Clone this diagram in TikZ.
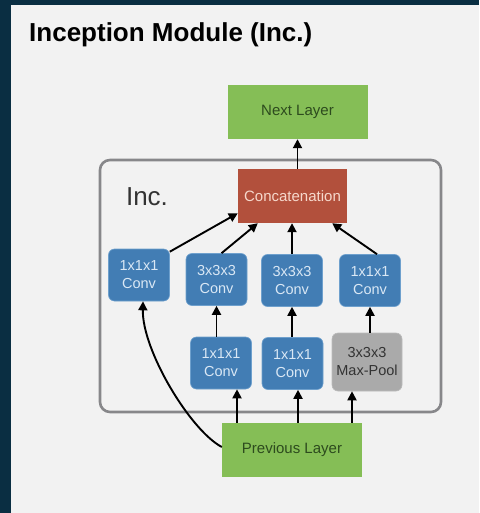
\documentclass[tikz,border=0pt]{standalone}
\usepackage{fontspec}
\setmainfont{Liberation Sans}
\usetikzlibrary{arrows.meta}
\definecolor{navy}{RGB}{10,46,66}
\definecolor{paper}{RGB}{242,242,242}
\definecolor{lgreen}{RGB}{133,190,86}
\definecolor{dgreen}{RGB}{45,75,30}
\definecolor{brick}{RGB}{178,80,60}
\definecolor{brtext}{RGB}{246,216,204}
\definecolor{cblue}{RGB}{66,125,180}
\definecolor{cbluel}{RGB}{110,160,205}
\definecolor{bltext}{RGB}{218,232,245}
\definecolor{pgray}{RGB}{170,170,170}
\definecolor{frame}{RGB}{135,135,138}
\tikzset{
  layerbox/.style={fill=lgreen, text=dgreen, minimum width=140pt, minimum height=54pt, inner sep=0pt, font=\fontsize{15}{17}\selectfont},
  convbox/.style={fill=cblue, draw=cbluel, line width=0.6pt, rounded corners=6pt, text=bltext, minimum width=61pt, minimum height=52pt, inner sep=0pt, align=center, font=\fontsize{14.5}{18}\selectfont},
  poolbox/.style={fill=pgray, draw=pgray!80!white, line width=0.6pt, rounded corners=6pt, text=black!80, minimum width=70pt, minimum height=58pt, inner sep=0pt, align=center, font=\fontsize{14.5}{18}\selectfont},
  catbox/.style={fill=brick, text=brtext, minimum width=109pt, minimum height=54pt, inner sep=0pt, font=\fontsize{15}{17}\selectfont},
  arr/.style={line width=1.9pt, -{Triangle[length=9pt,width=9pt]}},
}
\begin{document}
\begin{tikzpicture}[x=1pt,y=-1pt]
\fill[navy] (0,0) rectangle (479,513);
\fill[paper] (11,5) rectangle (479,513);
\useasboundingbox (0,0) rectangle (479,513);
\node[anchor=base west, inner sep=0pt, font=\bfseries\fontsize{26}{30}\selectfont, text=black] (title) at (29,42) {Inception Module (Inc.)};
\draw[frame, line width=2.6pt, rounded corners=10pt] (100,160) rectangle (441,412);
\node[font=\fontsize{26}{30}\selectfont, text=black!80] (inc) at (147,197) {Inc.};
\node[layerbox] (next) at (297.5,112) {Next Layer};
\node[catbox] (cat) at (292.5,196) {Concatenation};
\node[convbox] (b1) at (139,275) {1x1x1\\Conv};
\node[convbox] (b2) at (216.5,279.5) {3x3x3\\Conv};
\node[convbox] (b3) at (292,280.5) {3x3x3\\Conv};
\node[convbox] (b4) at (370,280.5) {1x1x1\\Conv};
\node[convbox] (c1) at (221,363) {1x1x1\\Conv};
\node[convbox] (c2) at (292.5,363.5) {1x1x1\\Conv};
\node[poolbox] (pool) at (367,362) {3x3x3\\Max-Pool};
\node[layerbox] (prev) at (292,450) {Previous Layer};
% previous layer to second row
\draw[arr] ([xshift=-55pt]prev.north) -- ([xshift=-55pt]prev.north |- c1.south);
\draw[arr] ([xshift=6pt]prev.north) -- ([xshift=6pt]prev.north |- c2.south);
\draw[arr] ([xshift=60pt]prev.north) -- ([xshift=60pt]prev.north |- pool.south);
\draw[arr] ([yshift=3pt]prev.west) .. controls (190,430) and (142,350) .. ([xshift=4pt]b1.south);
% second row to first row
\draw[arr] (c1.north -| b2.south) -- (b2.south);
\draw[arr] (c2.north -| b3.south) -- (b3.south);
\draw[arr] (pool.north -| b4.south) -- (b4.south);
% first row to concatenation
\draw[arr] ([yshift=-3pt]b1.north east) -- ([yshift=10pt]cat.south west);
\draw[arr] ([xshift=5pt]b2.north) -- ([xshift=20pt]cat.south west);
\draw[arr] (b3.north) -- (b3.north |- cat.south);
\draw[arr] ([xshift=7pt]b4.north) -- ([xshift=-15pt]cat.south east);
% concatenation to next layer
\draw[arr] ([xshift=5pt]cat.north) -- ([xshift=5pt]cat.north |- next.south);
\end{tikzpicture}
\end{document}
